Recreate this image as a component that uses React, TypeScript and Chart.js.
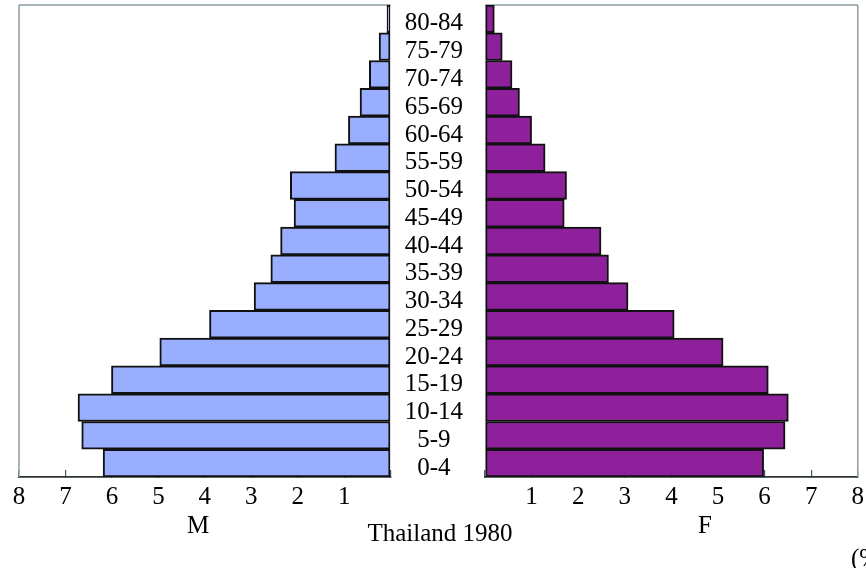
import React, { useEffect, useRef } from "react";
import { Chart, registerables } from "chart.js";

Chart.register(...registerables);

const ageGroups = ["0-4", "5-9", "10-14", "15-19", "20-24", "25-29", "30-34", "35-39", "40-44", "45-49", "50-54", "55-59", "60-64", "65-69", "70-74", "75-79", "80-84"];
const maleShare = [6.19, 6.65, 6.73, 6.01, 4.97, 3.9, 2.94, 2.58, 2.37, 2.08, 2.16, 1.2, 0.91, 0.66, 0.46, 0.25, 0.08];
const femaleShare = [5.98, 6.44, 6.51, 6.08, 5.11, 4.06, 3.07, 2.65, 2.49, 1.7, 1.75, 1.29, 1.0, 0.74, 0.58, 0.37, 0.2];
const axisMax = 8;
const maleLabel = "M";
const femaleLabel = "F";
const chartTitle = "Thailand 1980";
const unitLabel = "(%)";

const FONT = "'Liberation Serif', 'Times New Roman', serif";
const FRAME = "#8c9ea5";
const AXIS = "#2b3336";

function framePlugin(side: "left" | "right") {
  return {
    id: "frame_" + side,
    beforeDatasetsDraw(chart: any) {
      const { ctx, chartArea } = chart;
      ctx.save();
      ctx.strokeStyle = FRAME;
      ctx.lineWidth = 1.5;
      ctx.beginPath();
      ctx.moveTo(chartArea.left, chartArea.top);
      ctx.lineTo(chartArea.right, chartArea.top);
      const x = side === "left" ? chartArea.left : chartArea.right;
      ctx.moveTo(x, chartArea.top);
      ctx.lineTo(x, chartArea.bottom);
      ctx.stroke();
      ctx.restore();
    },
  };
}

function xScale(reverse: boolean) {
  return {
    type: "linear",
    position: "bottom",
    reverse,
    min: 0,
    max: axisMax,
    afterFit(scale: any) {
      scale.height = 91;
    },
    ticks: {
      stepSize: 1,
      color: "#000",
      font: { family: FONT, size: 25 },
      padding: 12,
      maxRotation: 0,
      callback: (v: any) => (v === 0 ? "" : String(v)),
    },
    grid: {
      display: true,
      drawOnChartArea: false,
      drawTicks: true,
      tickLength: -7,
      color: "#4a5660",
      lineWidth: 1.2,
    },
    border: { display: true, color: AXIS, width: 1.8 },
  };
}

export default function App() {
  const leftRef = useRef<HTMLCanvasElement | null>(null);
  const rightRef = useRef<HTMLCanvasElement | null>(null);

  useEffect(() => {
    const left = new Chart(leftRef.current as HTMLCanvasElement, {
      type: "bar",
      data: {
        labels: ageGroups,
        datasets: [
          {
            label: maleLabel,
            data: maleShare,
            backgroundColor: "#9aaeff",
            borderColor: "#111",
            borderWidth: 2,
            borderSkipped: false,
            barPercentage: 1,
            categoryPercentage: 1,
          },
        ],
      },
      options: {
        indexAxis: "y",
        responsive: false,
        animation: false,
        layout: { padding: { left: 19, top: 0, right: 0, bottom: 0 } },
        plugins: { legend: { display: false }, tooltip: { enabled: false } },
        scales: {
          x: xScale(true) as any,
          y: {
            type: "category",
            position: "right",
            reverse: true,
            afterFit(scale: any) {
              scale.width = 94.3;
            },
            grid: { display: false },
            border: { display: false },
            ticks: {
              crossAlign: "center",
              padding: 6,
              labelOffset: 5,
              color: "#000",
              font: { family: FONT, size: 25 },
              autoSkip: false,
            },
          },
        },
      },
      plugins: [framePlugin("left")],
    } as any);

    const right = new Chart(rightRef.current as HTMLCanvasElement, {
      type: "bar",
      data: {
        labels: ageGroups,
        datasets: [
          {
            label: femaleLabel,
            data: femaleShare,
            backgroundColor: "#8e219b",
            borderColor: "#111",
            borderWidth: 2,
            borderSkipped: false,
            barPercentage: 1,
            categoryPercentage: 1,
          },
        ],
      },
      options: {
        indexAxis: "y",
        responsive: false,
        animation: false,
        layout: { padding: { left: 0, top: 5, right: 0, bottom: 0 } },
        plugins: { legend: { display: false }, tooltip: { enabled: false } },
        scales: {
          x: xScale(false) as any,
          y: {
            type: "category",
            display: false,
            reverse: true,
          },
        },
      },
      plugins: [framePlugin("right")],
    } as any);

    return () => {
      left.destroy();
      right.destroy();
    };
  }, []);

  const text: React.CSSProperties = {
    position: "absolute",
    fontFamily: FONT,
    fontSize: 25,
    lineHeight: "25px",
    color: "#000",
    whiteSpace: "nowrap",
  };

  return (
    <div style={{ position: "absolute", left: 0, top: 0, width: 866, height: 568, overflow: "hidden", background: "#fff" }}>
      <canvas ref={leftRef} width={485} height={584} style={{ position: "absolute", left: 0, top: -16 }} />
      <canvas ref={rightRef} width={403} height={568} style={{ position: "absolute", left: 473, top: 0 }} />
      <div style={{ ...text, left: 198, top: 512, transform: "translateX(-50%)" }}>{maleLabel}</div>
      <div style={{ ...text, left: 705, top: 512, transform: "translateX(-50%)" }}>{femaleLabel}</div>
      <div style={{ ...text, left: 440, top: 520, transform: "translateX(-50%)" }}>{chartTitle}</div>
      <div style={{ ...text, left: 851, top: 545 }}>{unitLabel}</div>
    </div>
  );
}
